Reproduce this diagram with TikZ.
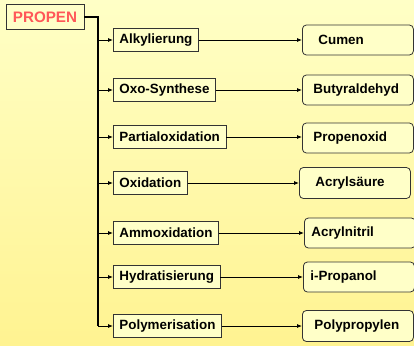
\documentclass[tikz,border=0pt]{standalone}
\usepackage{fontspec}
\setmainfont{Liberation Sans}
\usetikzlibrary{arrows.meta}
\definecolor{fondhaut}{RGB}{255,255,198}
\definecolor{fondbas}{RGB}{255,243,145}
\definecolor{boite}{RGB}{255,255,200}
\definecolor{rouge}{RGB}{255,88,88}
\begin{document}
\begin{tikzpicture}[x=1pt,y=-1pt,  % unites en pixels, y vers le bas
  etape/.style={draw=black!80, line width=0.8pt, fill=boite, anchor=west,
    minimum height=23pt, inner xsep=6pt, font=\bfseries\fontsize{13.4}{15}\selectfont},
  produit/.style={draw=black!80, line width=0.8pt, fill=boite, rounded corners=4pt,
    anchor=west, inner xsep=0pt, text width=111pt, align=left, minimum height=30pt,
    execute at begin node={\hspace*{#1}}, % decalage du texte
    font=\bfseries\fontsize{13.4}{15}\selectfont},
  fleche/.style={-{Latex[length=5pt,width=4pt]}, line width=0.8pt}]
% fond
\begin{scope}[y=1pt]
\fill[top color=fondhaut, bottom color=fondbas] (0,-345) rectangle (414,0);
\end{scope}
\useasboundingbox (0,0) rectangle (414,345);
% racine
\node[draw=black!80, line width=0.8pt, fill=boite, minimum width=78pt, minimum height=25pt,
  text=rouge, font=\bfseries\fontsize{15.2}{17}\selectfont] (propen) at (45,17) {PROPEN};
\coordinate (bus) at (98,17);
% procedes
\node[etape] (alk) at (113,40) {Alkylierung};
\node[etape] (oxo) at (113,90) {Oxo-Synthese};
\node[etape] (part) at (113,137) {Partialoxidation};
\node[etape] (oxi) at (113,183) {Oxidation};
\node[etape] (ammox) at (113,233) {Ammoxidation};
\node[etape] (hydr) at (113,277) {Hydratisierung};
\node[etape] (poly) at (113,326) {Polymerisation};
% produits
\node[produit=16pt] (cumen) at (302,40) {Cumen};
\node[produit=11pt] (butyr) at (302,90) {Butyraldehyd};
\node[produit=11pt] (propox) at (302,138) {Propenoxid};
\node[produit=16pt, minimum height=31pt] (acryls) at (299,183) {Acrylsäure};
\node[produit=7pt] (acryln) at (304,233) {Acrylnitril};
\node[produit=7pt] (ipro) at (303,277) {i-Propanol};
\node[produit=12pt, minimum height=31pt] (polyp) at (302,326) {Polypropylen};
% ligne principale
\draw[line width=1.4pt] (propen.east) -- (bus) -- (bus |- poly.west);
% branches
\draw[fleche] (bus |- alk.west) -- (alk.west);
\draw[fleche] (bus |- oxo.west) -- (oxo.west);
\draw[fleche] (bus |- part.west) -- (part.west);
\draw[fleche] (bus |- oxi.west) -- (oxi.west);
\draw[fleche] (bus |- ammox.west) -- (ammox.west);
\draw[fleche] (bus |- hydr.west) -- (hydr.west);
\draw[fleche] (bus |- poly.west) -- (poly.west);
% vers les produits
\draw[fleche] (alk.east) -- (cumen.west);
\draw[fleche] (oxo.east) -- (butyr.west);
\draw[fleche] (part.east) -- (propox.west |- part.east);
\draw[fleche] (oxi.east) -- (acryls.west);
\draw[fleche] (ammox.east) -- (acryln.west);
\draw[fleche] (hydr.east) -- (ipro.west);
\draw[fleche] (poly.east) -- (polyp.west);
\end{tikzpicture}
\end{document}
